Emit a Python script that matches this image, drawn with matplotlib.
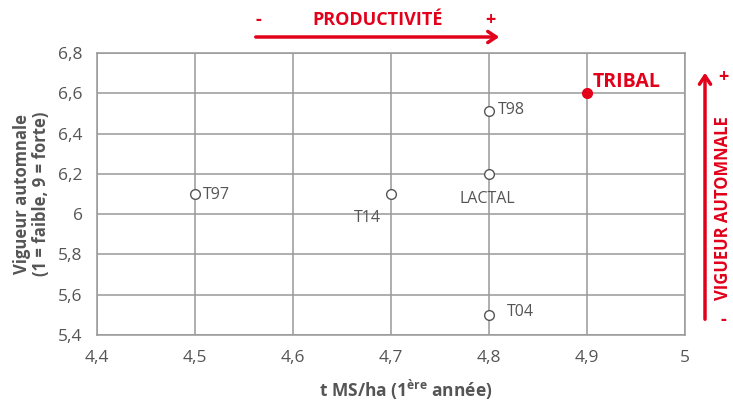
import matplotlib
matplotlib.use("Agg")
from matplotlib import pyplot as plt

plt.rcParams['font.family'] = ['Open Sans', 'DejaVu Sans']

# données
varietes = ['T97', 'T14', 'T98', 'LACTAL', 'T04', 'TRIBAL']
rendement = [4.5, 4.7, 4.8, 4.8, 4.8, 4.9]
vigueur = [6.1, 6.1, 6.51, 6.2, 5.5, 6.6]
# décalage des étiquettes (points)
decalages = [(6, -1), (-27, -17), (6, 1), (-21, -18), (13, 2), (4, 8)]
x_ticks = [4.4, 4.5, 4.6, 4.7, 4.8, 4.9, 5.0]
y_ticks = [5.4, 5.6, 5.8, 6.0, 6.2, 6.4, 6.6, 6.8]

ROUGE = '#e2001a'
GRIS = '#555555'
GRILLE = '#999999'


def fmt(v):
    return ('%g' % v).replace('.', ',')


fig = plt.figure(figsize=(7.33, 4.05), dpi=100)
ax = fig.add_axes([0.132, 0.173, 0.803, 0.696])

ax.set_xlim(4.4, 5.0)
ax.set_ylim(5.4, 6.8)
ax.set_xticks(x_ticks)
ax.set_yticks(y_ticks)
ax.set_xticklabels([fmt(v) for v in x_ticks], fontsize=12.5, color=GRIS)
ax.set_yticklabels([fmt(v) for v in y_ticks], fontsize=12.5, color=GRIS)
ax.tick_params(axis='x', length=0, pad=11)
ax.tick_params(axis='y', length=0, pad=10)
ax.grid(True, color=GRILLE, linewidth=1.1)
ax.set_axisbelow(True)
for sp in ax.spines.values():
    sp.set_color(GRILLE)
    sp.set_linewidth(1.1)

for nom, x, y, (dx, dy) in zip(varietes, rendement, vigueur, decalages):
    if nom == 'TRIBAL':
        ax.plot(x, y, 'o', ms=7, color=ROUGE, zorder=3)
        ax.annotate(nom, (x, y), xytext=(dx, dy), textcoords='offset points',
                    fontsize=14, fontweight='bold', color=ROUGE, va='center')
    else:
        ax.plot(x, y, 'o', ms=7, mfc='white', mec=GRIS, mew=1, zorder=3)
        ax.annotate(nom, (x, y), xytext=(dx, dy), textcoords='offset points',
                    fontsize=11.5, color=GRIS, va='center')

ax.set_xlabel('t MS/ha (1$^{\\mathregular{ère}}$ année)', fontsize=12.5,
              fontweight='bold', color=GRIS)
ax.xaxis.set_label_coords(0.525, -0.195)
ax.xaxis.label.set_va('center')
ax.set_ylabel('Vigueur automnale\n(1 = faible, 9 = forte)', fontsize=12,
              fontweight='bold', color=GRIS, labelpad=6, linespacing=1.1)

# flèche productivité
fig.patches.append(matplotlib.patches.FancyArrowPatch(
    (253 / 733, 1 - 37 / 405), (502 / 733, 1 - 37 / 405),
    transform=fig.transFigure, arrowstyle='->,head_length=6,head_width=4',
    color=ROUGE, lw=2.5, mutation_scale=1))
fig.text(258 / 733, 1 - 20 / 405, '-', color=ROUGE, fontsize=13,
         fontweight='bold', ha='center', va='center')
fig.text(378 / 733, 1 - 20 / 405, 'PRODUCTIVITÉ', color=ROUGE, fontsize=13,
         fontweight='bold', ha='center', va='center')
fig.text(490 / 733, 1 - 20 / 405, '+', color=ROUGE, fontsize=13,
         fontweight='bold', ha='center', va='center')

# flèche vigueur
fig.patches.append(matplotlib.patches.FancyArrowPatch(
    (705 / 733, 1 - 322 / 405), (705 / 733, 1 - 70 / 405),
    transform=fig.transFigure, arrowstyle='->,head_length=6,head_width=4',
    color=ROUGE, lw=2.5, mutation_scale=1))
fig.text(723 / 733, 1 - 208 / 405, 'VIGUEUR AUTOMNALE', color=ROUGE, fontsize=12,
         fontweight='bold', ha='center', va='center', rotation=90)
fig.text(723 / 733, 1 - 77 / 405, '+', color=ROUGE, fontsize=13,
         fontweight='bold', ha='center', va='center')
fig.text(723 / 733, 1 - 320 / 405, '-', color=ROUGE, fontsize=13,
         fontweight='bold', ha='center', va='center')

fig.savefig('out.png', dpi=100)
